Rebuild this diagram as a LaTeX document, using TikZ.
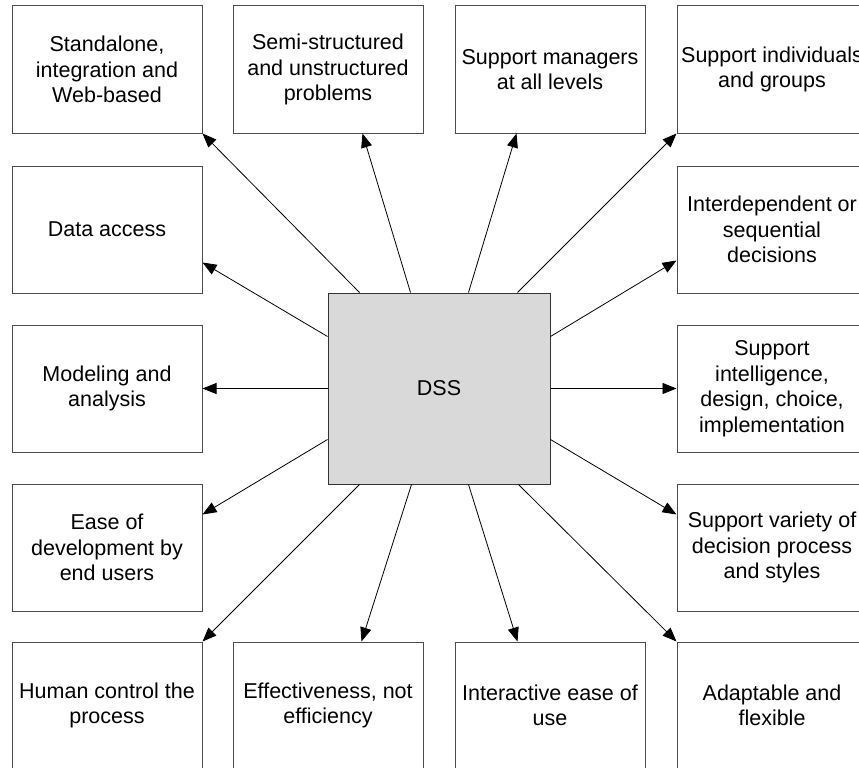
\documentclass[tikz,border=0pt]{standalone}
\usepackage{fontspec}
\setmainfont{Liberation Sans}
\usetikzlibrary{calc,arrows.meta}

\tikzset{
  featbox/.style={draw=black!70, line width=1pt, fill=white, minimum width=190pt,
    minimum height=127pt, inner sep=0pt, align=center,
    font=\fontsize{21.5pt}{25.5pt}\selectfont},
  corebox/.style={draw=black!80, line width=1pt, fill=black!15, minimum width=222pt,
    minimum height=191pt, inner sep=0pt, font=\fontsize{21.5pt}{25.5pt}\selectfont},
  link/.style={draw=black, line width=0.8pt, -{Triangle[length=14pt,width=11pt]}}
}

\begin{document}
\begin{tikzpicture}[x=1pt,y=-1pt]
  \clip (0,0) rectangle (859,768);
  \fill[white] (0,0) rectangle (859,768);

  % centre node
  \node[corebox] (dss) at (439,388.5) {DSS};

  % top row
  \node[featbox] (std)   at (107,69.5) {Standalone,\\integration and\\Web-based};
  \node[featbox] (semi)  at (328,69.5) {Semi-structured\\and unstructured\\problems};
  \node[featbox] (mgr)   at (550,69.5) {Support managers\\at all levels};
  \node[featbox] (indiv) at (772,69.5) {Support individuals\\and groups};

  % left column
  \node[featbox] (data)  at (107,229.5) {Data access};
  \node[featbox] (model) at (107,388.5) {Modeling and\\analysis};
  \node[featbox] (ease)  at (107,547.5) {Ease of\\development by\\end users};

  % right column
  \node[featbox] (inter) at (772,229.5) {Interdependent or\\sequential\\decisions};
  \node[featbox] (idci)  at (772,388.5) {Support\\intelligence,\\design, choice,\\implementation};
  \node[featbox] (var)   at (772,547.5) {Support variety of\\decision process\\and styles};

  % bottom row
  \node[featbox] (human) at (107,705.5) {Human control the\\process};
  \node[featbox] (eff)   at (328,705.5) {Effectiveness, not\\efficiency};
  \node[featbox] (use)   at (550,705.5) {Interactive ease of\\use};
  \node[featbox] (adapt) at (772,705.5) {Adaptable and\\flexible};

  % connectors leaving the top side
  \draw[link] ($(dss.north west)+(32,0)$)  -- (std.south east);
  \draw[link] ($(dss.north west)+(83,0)$)  -- ($(semi.south west)+(130,0)$);
  \draw[link] ($(dss.north west)+(141,0)$) -- ($(mgr.south west)+(62,0)$);
  \draw[link] ($(dss.north west)+(190,0)$) -- (indiv.south west);

  % connectors leaving the sides
  \draw[link] ($(dss.north west)+(0,44)$)  -- ($(data.south east)+(0,-31)$);
  \draw[link] (dss.west) -- (model.east);
  \draw[link] ($(dss.south west)+(0,-45)$) -- ($(ease.north east)+(0,31)$);
  \draw[link] ($(dss.north east)+(0,44)$)  -- ($(inter.south west)+(0,-33)$);
  \draw[link] (dss.east) -- (idci.west);
  \draw[link] ($(dss.south east)+(0,-45)$) -- ($(var.north west)+(0,31)$);

  % connectors leaving the bottom side
  \draw[link] ($(dss.south west)+(32,0)$)  -- (human.north east);
  \draw[link] ($(dss.south west)+(84,0)$)  -- ($(eff.north west)+(129,0)$);
  \draw[link] ($(dss.south west)+(141,0)$) -- ($(use.north west)+(63,0)$);
  \draw[link] ($(dss.south west)+(191,0)$) -- (adapt.north west);
\end{tikzpicture}
\end{document}
